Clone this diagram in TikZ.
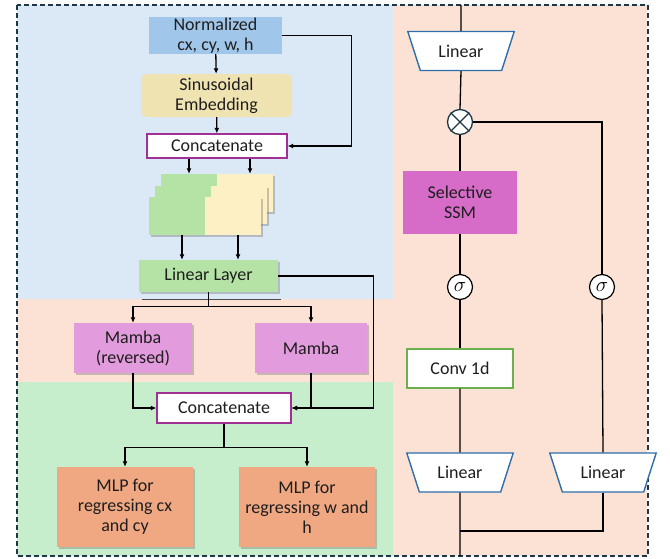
\documentclass[tikz,border=0pt]{standalone}
\usepackage{fontspec}
\setmainfont{Carlito}
\usetikzlibrary{shapes.geometric,arrows.meta,shadows,calc}
\definecolor{bgblue}{RGB}{219,232,246}
\definecolor{bgpeach}{RGB}{251,226,213}
\definecolor{bggreen}{RGB}{198,238,205}
\definecolor{nblue}{RGB}{160,198,234}
\definecolor{sinus}{RGB}{240,227,178}
\definecolor{sgreen}{RGB}{181,227,165}
\definecolor{syellow}{RGB}{253,240,196}
\definecolor{mamba}{RGB}{226,155,220}
\definecolor{mlp}{RGB}{240,168,130}
\definecolor{ssm}{RGB}{214,107,200}
\definecolor{cpurple}{RGB}{160,48,150}
\definecolor{cgreen}{RGB}{106,176,76}
\definecolor{tblue}{RGB}{46,110,170}
\definecolor{frame}{RGB}{30,55,70}
\definecolor{txt}{RGB}{30,30,30}
\begin{document}
\begin{tikzpicture}[x=1pt,y=-1pt,
  font=\fontsize{18}{20}\selectfont,
  box/.style={draw=none, align=center, inner sep=0pt, text=txt},
  shd/.style={drop shadow={shadow xshift=2pt,shadow yshift=-2pt,opacity=0.35,fill=black!60}},
  sheet/.style={draw=none, minimum width=56, minimum height=38, inner sep=0pt, shd},
  arr/.style={-{Latex[length=5.5pt,width=5pt]}, line width=1.3pt},
  ln/.style={line width=1.3pt},
  trap/.style={trapezium, trapezium angle=61, shape border rotate=180, trapezium stretches=true,
     minimum width=107, minimum height=39, draw=tblue, line width=1.4pt, fill=white, inner sep=0pt, text=txt},
  sig/.style={circle, draw=black, fill=white, line width=1.2pt, minimum size=25, inner sep=0pt, font=\fontsize{22}{22}\selectfont}
]
\useasboundingbox (0,0) rectangle (670,558);
% backgrounds
\fill[bgblue] (17,5) rectangle (393,299);
\fill[bgpeach] (17,299) rectangle (393,382);
\fill[bggreen] (17,382) rectangle (393,556);
\fill[bgpeach] (393,5) rectangle (647,556);
\draw[frame, line width=1.4pt, dash pattern=on 5pt off 3pt] (17,5) rectangle (648,556);

% left column
\node[box, fill=nblue, minimum width=133, minimum height=37] (norm) at (215.5,35.5) {Normalized\\cx, cy, w, h};
\node[box, fill=sinus, rounded corners=6pt, minimum width=151, minimum height=43] (sin) at (216.5,95.5) {Sinusoidal\\Embedding};
\node[box, fill=white, draw=cpurple, line width=1.3pt, minimum width=140, minimum height=24] (cat1) at (217,146) {Concatenate};

\node[sheet, fill=sgreen] (g1) at (189,193) {};
\node[sheet, fill=syellow] (y1) at (245,193) {};
\node[sheet, fill=sgreen] (g2) at (183,204.5) {};
\node[sheet, fill=syellow] (y2) at (239,204.5) {};
\node[sheet, fill=sgreen] (g3) at (177,216) {};
\node[sheet, fill=syellow] (y3) at (233,216) {};

\node[box, fill=sgreen, shd, minimum width=139, minimum height=32] (lin) at (208.5,276) {Linear Layer};
\draw[black!70, line width=1pt] ($(lin.south west)+(3,7)$) -- ($(lin.south east)+(3,7)$);

\node[box, fill=mamba, shd, minimum width=118, minimum height=50] (mr) at (133,348) {Mamba\\(reversed)};
\node[box, fill=mamba, shd, minimum width=112, minimum height=50] (mm) at (311,348) {Mamba};
\node[box, fill=white, draw=cpurple, line width=1.3pt, minimum width=134, minimum height=30] (cat2) at (224,408) {Concatenate};
\node[box, fill=mlp, shd, minimum width=136, minimum height=80] (mlp1) at (125,507) {MLP for\\regressing cx\\and cy};
\node[box, fill=mlp, shd, minimum width=136, minimum height=80] (mlp2) at (307,507) {MLP for\\regressing w and\\h};

\draw[arr] (norm) -- (sin);
\draw[arr] (sin) -- (cat1);
\draw[arr] (norm.east) -- ++(69,0) |- (cat1.east);
\draw[arr] (g1.north |- cat1.south) -- (g1.north);
\draw[arr] ([xshift=5pt]y1.north |- cat1.south) -- ([xshift=5pt]y1.north);
\draw[arr] ([xshift=5pt]g3.south) -- ([xshift=5pt]g3.south |- lin.north);
\draw[arr] ([xshift=5pt]y3.south) -- ([xshift=5pt]y3.south |- lin.north);
\draw[ln] (lin.south) -- ++(0,14) coordinate (sp1);
\draw[arr] (sp1) -| (mr.north);
\draw[arr] (sp1) -| (mm.north);
\draw[arr] (lin.east) -- ++(95,0) |- (cat2.east);
\draw[arr] (mr.south) |- (cat2.west);
\draw[arr] (mm.south) |- (cat2.east);
\draw[ln] (cat2.south) -- ++(0,24) coordinate (sp2);
\draw[arr] (sp2) -| (mlp1.north);
\draw[arr] (sp2) -| (mlp2.north);

% right column
\coordinate (topin) at (461,5);
\coordinate (botout) at (460,556);
\coordinate (join) at (460,531);
\node[trap] (l1) at (461,51) {Linear};
\node[circle, draw=frame, fill=white, line width=1.3pt, minimum size=25, inner sep=0pt] (mul) at (460,122) {};
\draw[frame, line width=1.3pt] (mul.north west) -- (mul.south east) (mul.north east) -- (mul.south west);
\node[box, fill=ssm, minimum width=114, minimum height=63] (ssmn) at (460,202.5) {Selective\\SSM};
\node[sig] (s1) at (460,287) {$\sigma$};
\node[sig] (s2) at (602,287) {$\sigma$};
\node[box, fill=white, draw=cgreen, line width=1.3pt, minimum width=106, minimum height=39] (conv) at (460,368.5) {Conv 1d};
\node[trap] (l2) at (460,472.5) {Linear};
\node[trap] (l3) at (603,472.5) {Linear};

\draw[ln] (topin) -- (l1.north);
\draw[ln] (l1.south) -- (mul.north);
\draw[ln] (mul.south) -- (ssmn.north);
\draw[ln] (mul.east) -| (s2.north);
\draw[ln] (ssmn.south) -- (s1.north);
\draw[ln] (s1.south) -- (conv.north);
\draw[ln] (conv.south) -- (l2.north);
\draw[ln] (s2.south) -- (l3.north);
\draw[ln] (l2.south) -- (botout);
\draw[ln] (l3.south) |- (join);
\end{tikzpicture}
\end{document}
